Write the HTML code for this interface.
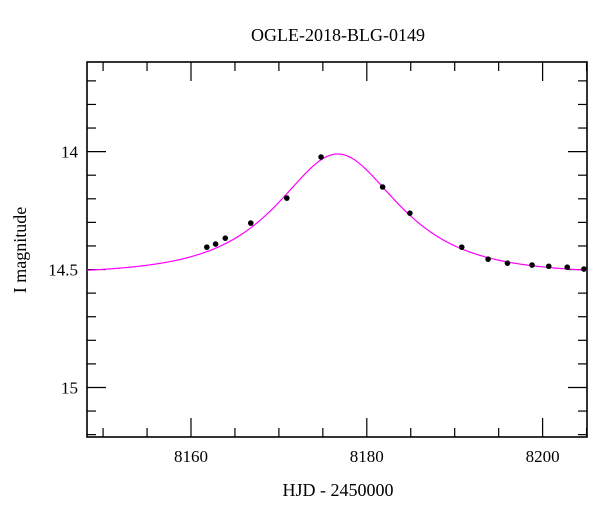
<!DOCTYPE html>
<html><head><meta charset="utf-8">
<style>
html,body{margin:0;padding:0;background:#fff;}
svg{display:block;font-family:"Liberation Serif",serif;}
</style></head>
<body>
<svg id="chart" width="600" height="512" viewBox="0 0 600 512" xmlns="http://www.w3.org/2000/svg">
<text x="338" y="41" font-size="18" text-anchor="middle">OGLE-2018-BLG-0149</text>
<text x="338" y="496" font-size="18" text-anchor="middle">HJD - 2450000</text>
<text x="26" y="250" font-size="18" text-anchor="middle" transform="rotate(-90 26 250)">I magnitude</text>
<g id="plot"></g>
</svg>
<script>
const obsTimes = [8161.8,8162.8,8163.9,8166.8,8170.9,8174.8,8181.8,8184.9,8190.8,8193.8,8196.0,8198.8,8200.7,8202.8,8204.7];
const obsMags  = [14.405,14.392,14.367,14.303,14.197,14.023,14.150,14.261,14.405,14.456,14.473,14.481,14.486,14.490,14.498];
const modelT0 = [8176.7];
const modelTE = [9.6];
const modelU0 = [0.75];
const modelBase = [14.52];
const xTicks = [8160,8180,8200];
const yTicks = [14,14.5,15];
const yTickLabels = ["14","14.5","15"];

const L=87,R=587,T=62,B=437;
const xMin=8148.17,xMax=8205.05,yMin=13.62,yMax=15.21;
const sx=v=>L+(v-xMin)/(xMax-xMin)*(R-L);
const sy=v=>T+(v-yMin)/(yMax-yMin)*(B-T);
const NS="http://www.w3.org/2000/svg";
const g=document.getElementById('plot');
function mk(tag,attrs){const e=document.createElementNS(NS,tag);for(const k in attrs)e.setAttribute(k,attrs[k]);g.appendChild(e);return e;}

// frame
const fr=mk('rect',{x:L,y:T,width:R-L,height:B-T,fill:'none',stroke:'#000','stroke-width':1.6});



// x ticks
for(let v=8150;v<=8205;v+=5){
  const x=sx(v);const major=(v%20===0);const len=major?19:9;
  const t1=mk('line',{x1:x,y1:T,x2:x,y2:T+len,stroke:'#000','stroke-width':1.2});
  
  
  const t2=mk('line',{x1:x,y1:B,x2:x,y2:B-len,stroke:'#000','stroke-width':1.2});
  
  
}
xTicks.forEach(v=>{
  const t=mk('text',{x:sx(v),y:462,'font-size':17,'text-anchor':'middle'});
  t.textContent=String(v);
  
  
});
// y ticks
for(let i=0;i<=15;i++){
  const v=13.7+i*0.1; if(v>yMax) break;
  const y=sy(v);const major=(Math.abs(v*2-Math.round(v*2))<1e-6);const len=major?19:9;
  const t1=mk('line',{x1:L,y1:y,x2:L+len,y2:y,stroke:'#000','stroke-width':1.2});
  
  
  const t2=mk('line',{x1:R,y1:y,x2:R-len,y2:y,stroke:'#000','stroke-width':1.2});
  
  
}
yTicks.forEach((v,i)=>{
  const t=mk('text',{x:78,y:sy(v)+6,'font-size':17,'text-anchor':'end'});
  t.textContent=yTickLabels[i];
  
  
});

// model curve
function mag(t){
  const tau=(t-modelT0[0])/modelTE[0];const u=Math.sqrt(modelU0[0]*modelU0[0]+tau*tau);
  const A=(u*u+2)/(u*Math.sqrt(u*u+4));
  return modelBase[0]-2.5*Math.log10(A);
}
let d='';
for(let i=0;i<=400;i++){const t=xMin+(xMax-xMin)*i/400;d+=(i?'L':'M')+sx(t).toFixed(2)+','+sy(mag(t)).toFixed(2);}
const c=mk('path',{d:d,fill:'none',stroke:'#ff00ff','stroke-width':1.2});



// data points
obsTimes.forEach((t,i)=>{
  const p=mk('circle',{cx:sx(t),cy:sy(obsMags[i]),r:2.8,fill:'#000'});
  
  
});
</script>
</body></html>
